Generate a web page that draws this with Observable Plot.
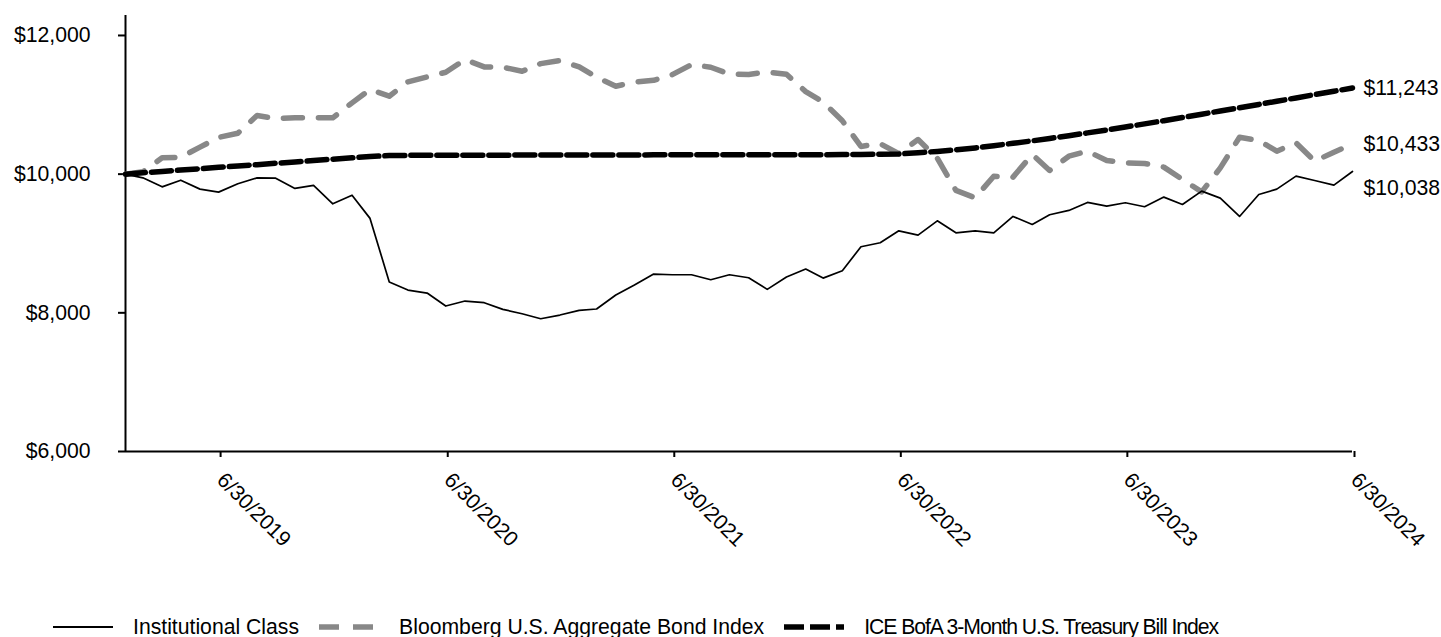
<!DOCTYPE html>
<html>
<head>
<meta charset="utf-8">
<script src="https://cdn.jsdelivr.net/npm/d3@7"></script>
<script src="https://cdn.jsdelivr.net/npm/@observablehq/plot@0.6"></script>
<style>
  html, body { margin: 0; padding: 0; background: #fff; }
  body { width: 1441px; height: 637px; overflow: hidden; font-family: "Liberation Sans", Arial, sans-serif; color: #000; }
  #chart svg { display: block; }
  #legend { display: flex; align-items: center; height: 22px; margin-top: 36px; padding-left: 53px; font-size: 21.2px; white-space: nowrap; }
  #legend .item { display: flex; align-items: center; margin-right: 20px; }
  #legend svg { display: block; margin-right: 20px; }
  #legend .item.tight span { letter-spacing: -1.05px; }
</style>
</head>
<body>
<div id="chart"></div>
<div id="legend"></div>
<script>
// ---- data ----
const months = [
  "2019-01-31","2019-02-28","2019-03-31","2019-04-30","2019-05-31","2019-06-30","2019-07-31","2019-08-31","2019-09-30","2019-10-31","2019-11-30","2019-12-31",
  "2020-01-31","2020-02-29","2020-03-31","2020-04-30","2020-05-31","2020-06-30","2020-07-31","2020-08-31","2020-09-30","2020-10-31","2020-11-30","2020-12-31",
  "2021-01-31","2021-02-28","2021-03-31","2021-04-30","2021-05-31","2021-06-30","2021-07-31","2021-08-31","2021-09-30","2021-10-31","2021-11-30","2021-12-31",
  "2022-01-31","2022-02-28","2022-03-31","2022-04-30","2022-05-31","2022-06-30","2022-07-31","2022-08-31","2022-09-30","2022-10-31","2022-11-30","2022-12-31",
  "2023-01-31","2023-02-28","2023-03-31","2023-04-30","2023-05-31","2023-06-30","2023-07-31","2023-08-31","2023-09-30","2023-10-31","2023-11-30","2023-12-31",
  "2024-01-31","2024-02-29","2024-03-31","2024-04-30","2024-05-31","2024-06-30"
];
const institutional = [
  10000, 9947, 9817, 9913, 9784, 9741, 9861, 9947, 9942, 9794, 9837, 9572,
  9697, 9362, 8445, 8328, 8285, 8098, 8170, 8146, 8050, 7987, 7915, 7968,
  8036, 8055, 8257, 8401, 8559, 8549, 8549, 8477, 8549, 8506, 8338, 8516,
  8631, 8501, 8607, 8953, 9010, 9183, 9121, 9327, 9154, 9183, 9154, 9390,
  9275, 9414, 9477, 9592, 9539, 9587, 9530, 9669, 9563, 9755, 9654, 9390,
  9707, 9784, 9971, 9909, 9841, 10038
];
const bloomberg = [
  10000, 10035, 10235, 10245, 10389, 10530, 10590, 10845, 10802, 10812, 10812, 10812,
  11028, 11220, 11124, 11330, 11402, 11470, 11652, 11547, 11542, 11484, 11594, 11638,
  11547, 11398, 11268, 11326, 11354, 11436, 11580, 11542, 11445, 11436, 11474, 11440,
  11190, 11040, 10770, 10400, 10440, 10295, 10500, 10230, 9765, 9660, 9970, 9957,
  10284, 10053, 10259, 10331, 10197, 10163, 10154, 10101, 9923, 9745, 10090, 10533,
  10485, 10331, 10451, 10187, 10317, 10433
];
const iceBofA = [
  10000, 10020, 10039, 10059, 10078, 10098, 10118, 10137, 10157, 10176, 10196, 10216,
  10235, 10255, 10268, 10271, 10272, 10273, 10273, 10274, 10274, 10275, 10275, 10276,
  10276, 10277, 10277, 10277, 10278, 10278, 10278, 10279, 10279, 10279, 10280, 10280,
  10280, 10281, 10282, 10284, 10287, 10292, 10308, 10328, 10350, 10378, 10410, 10445,
  10480, 10515, 10555, 10595, 10636, 10680, 10725, 10771, 10817, 10864, 10911, 10958,
  11005, 11052, 11099, 11147, 11195, 11243
];
const seriesNames = ["Institutional Class", "Bloomberg U.S. Aggregate Bond Index", "ICE BofA 3-Month U.S. Treasury Bill Index"];
const endLabels = ["$10,038", "$10,433", "$11,243"];
const tickDates = ["2019-06-30","2020-06-30","2021-06-30","2022-06-30","2023-06-30","2024-06-30"];
const tickLabels = ["6/30/2019","6/30/2020","6/30/2021","6/30/2022","6/30/2023","6/30/2024"];
const yTicks = [6000, 8000, 10000, 12000];

// ---- build tables ----
const parse = d3.utcParse("%Y-%m-%d");
const dates = months.map(parse);
const seriesValues = [institutional, bloomberg, iceBofA];
const rows = seriesValues.map((vals, s) => vals.map((v, i) => ({date: dates[i], value: v, series: seriesNames[s]})));
const lastRows = rows.map((r, s) => ({...r[r.length - 1], label: endLabels[s], s}));
const tickDateObjs = tickDates.map(parse);
const tickLabelMap = new Map(tickDateObjs.map((d, i) => [+d, tickLabels[i]]));

const styles = [
  {stroke: "#000", strokeWidth: 1.7},
  {stroke: "#888888", strokeWidth: 5.5, strokeDasharray: "19,16"},
  {stroke: "#000", strokeWidth: 5.5, strokeDasharray: "20,6"}
];
const FS = 21.2;

const chart = Plot.plot({
  width: 1441,
  height: 580,
  marginLeft: 125,
  marginRight: 89,
  marginTop: 15,
  marginBottom: 129,
  style: {fontFamily: "'Liberation Sans', Arial, sans-serif", fontSize: FS + "px", color: "#000", background: "#fff", overflow: "visible"},
  x: {type: "utc", domain: [dates[0], dates[dates.length - 1]]},
  y: {domain: [6000, 12288]},
  marks: [
    Plot.axisY({ticks: yTicks, tickFormat: d => "$" + d3.format(",")(d), tickSize: 7, tickPadding: 28, strokeWidth: 2, label: null, fontSize: FS}),
    Plot.axisX({ticks: tickDateObjs, tickFormat: d => tickLabelMap.get(+d), tickRotate: 45, tickSize: 6, tickPadding: 19, dx: 2, strokeWidth: 2, label: null, fontSize: FS}),
    Plot.ruleX([dates[0]], {stroke: "#000", strokeWidth: 2}),
    Plot.ruleY([6000], {stroke: "#000", strokeWidth: 2}),
    Plot.line(rows[1], {x: "date", y: "value", ...styles[1]}),
    Plot.line(rows[2], {x: "date", y: "value", ...styles[2]}),
    Plot.line(rows[0], {x: "date", y: "value", ...styles[0]}),
    Plot.text(lastRows.filter(d => d.s !== 0), {x: "date", y: "value", text: "label", textAnchor: "start", dx: 11, fontSize: FS, fill: "#000"}),
    Plot.text(lastRows.filter(d => d.s === 0), {x: "date", y: "value", text: "label", textAnchor: "start", dx: 11, dy: 17, fontSize: FS, fill: "#000"})
  ]
});
document.getElementById("chart").appendChild(chart);

// ---- legend ----
const legend = d3.select("#legend");
seriesNames.forEach((name, s) => {
  const item = legend.append("div").attr("class", s === 2 ? "item tight" : "item");
  const svg = item.append("svg").attr("width", 60).attr("height", 12);
  svg.append("line").attr("x1", 0).attr("x2", 60).attr("y1", 6).attr("y2", 6)
    .attr("stroke", styles[s].stroke)
    .attr("stroke-width", s === 0 ? 2 : 5.5)
    .attr("stroke-dasharray", s === 1 ? "20,14" : (s === 2 ? "20,6" : null));
  item.append("span").text(name);
});
</script>
</body>
</html>
